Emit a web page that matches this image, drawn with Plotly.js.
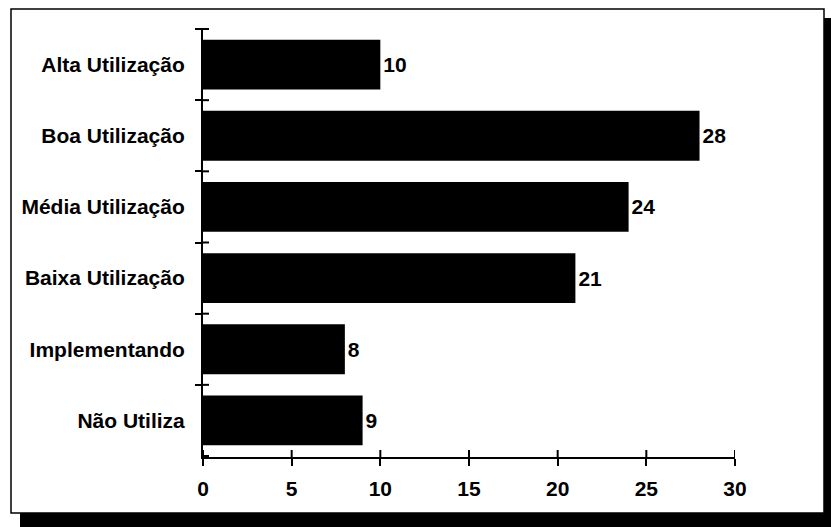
<!DOCTYPE html>
<html>
<head>
<meta charset="utf-8">
<script src="https://cdn.plot.ly/plotly-3.0.1.min.js"></script>
<style>html,body{margin:0;padding:0;background:#fff;}#chart{width:831px;height:527px;}</style>
</head>
<body>
<div id="chart"></div>
<script>
const categories = ["Alta Utilização", "Boa Utilização", "Média Utilização", "Baixa Utilização", "Implementando", "Não Utiliza"];
const values = [10, 28, 24, 21, 8, 9];
const xTicks = [0, 5, 10, 15, 20, 25, 30];

const W = 831, H = 527;
const M = {l: 203, r: 96, t: 28, b: 70};
const PW = W - M.l - M.r, PH = H - M.t - M.b;
function px(x) { return (x - M.l) / PW; }
function py(y) { return (H - M.b - y) / PH; }

const font = {family: "Liberation Sans, Arial, sans-serif", size: 21, color: "#000", weight: "bold"};

const traces = [
  {
    type: "bar", orientation: "h",
    x: values, y: categories,
    marker: {color: "#000", line: {width: 0}},
    width: 0.7,
    text: values.map(String), textposition: "outside",
    textfont: font, cliponaxis: false,
    hoverinfo: "skip"
  }
];

const axisCommon = {showgrid: false, zeroline: false, linecolor: "#000", linewidth: 2, tickcolor: "#000", tickwidth: 2, tickfont: font};

const shapes = [
  {type: "rect", xref: "paper", yref: "paper", layer: "below",
    x0: px(20), x1: px(831), y0: py(527), y1: py(513), fillcolor: "#000", line: {width: 0}},
  {type: "rect", xref: "paper", yref: "paper", layer: "below",
    x0: px(824), x1: px(831), y0: py(527), y1: py(18), fillcolor: "#000", line: {width: 0}},
  {type: "rect", xref: "paper", yref: "paper", layer: "below",
    x0: px(11), x1: px(824), y0: py(513), y1: py(9), fillcolor: "rgba(0,0,0,0)", line: {color: "#000", width: 1.5}}
];
// inner halves of the crossing tick marks
xTicks.forEach(v => shapes.push({type: "line", xref: "x", yref: "paper", x0: v, x1: v, y0: 0, y1: 7 / PH, line: {color: "#000", width: 2}}));
for (let i = 0; i <= categories.length; i++) {
  shapes.push({type: "line", xref: "paper", yref: "y", x0: 0, x1: 6 / PW, y0: i - 0.5, y1: i - 0.5, line: {color: "#000", width: 2}});
}

const layout = {
  width: W, height: H,
  margin: M,
  paper_bgcolor: "#fff", plot_bgcolor: "rgba(0,0,0,0)",
  showlegend: false,
  font: font,
  xaxis: Object.assign({}, axisCommon, {
    range: [0, 30], tickvals: xTicks, ticks: "outside", ticklen: 7,
    showline: true, ticklabelstandoff: 5
  }),
  yaxis: Object.assign({}, axisCommon, {
    type: "category", categoryorder: "array", categoryarray: categories,
    autorange: "reversed", ticks: "outside", ticklen: 6, tickson: "boundaries",
    showline: true, ticklabelstandoff: 12
  }),
  shapes: shapes
};

Plotly.newPlot("chart", traces, layout, {staticPlot: true, displayModeBar: false});
</script>
</body>
</html>
